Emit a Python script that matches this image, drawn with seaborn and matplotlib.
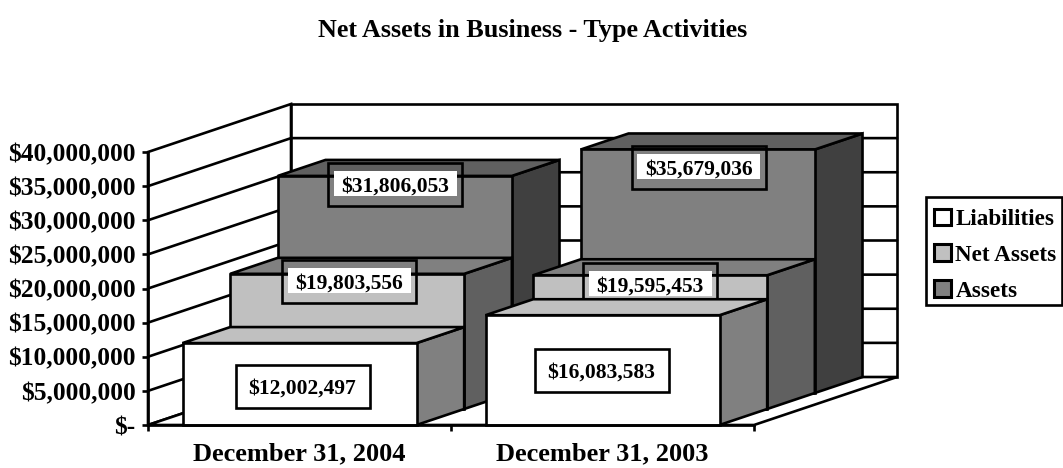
import matplotlib
matplotlib.use("Agg")
import matplotlib.pyplot as plt
import seaborn as sns
import pandas as pd
from matplotlib.patches import Polygon, Rectangle, Patch
from matplotlib.ticker import FuncFormatter, MultipleLocator

# ---- data ----
periods = ["December 31, 2004", "December 31, 2003"]
liabilities = [12002497, 16083583]
net_assets = [19803556, 19595453]
assets = [31806053, 35679036]
series_names = ["Liabilities", "Net Assets", "Assets"]
series_values = [liabilities, net_assets, assets]

# ---- style / layout ----
FIG_W, FIG_H = 1063, 468
AX_L, AX_R, AX_B, AX_T = 148, 754, 425, 152
YMAX = 40000000
PX_X = (AX_R - AX_L) / 2.0          # px per category
PX_Y = (AX_B - AX_T) / YMAX         # px per dollar
DZ_X = 47.67 / PX_X                 # depth slot, in category units
DZ_Y = 16.0 / PX_Y                  # depth slot, in dollars
BAR_W = 234 / PX_X
LW = 1.9
front = ["#ffffff", "#c0c0c0", "#808080"]
top = ["#c0c0c0", "#808080", "#606060"]
side = ["#808080", "#606060", "#404040"]
label_drop_px = [[43.5, 55.5], [7.5, 9.0], [8.5, 18.5]]
label_shift_px = [[3, -1], [2, 0], [0.5, 1]]
label_box_fill = ["#ffffff", "none", "none"]
BOX_W, BOX_H = 134 / PX_X, 43 / PX_Y
BG_W, BG_H = 123 / PX_X, 25 / PX_Y
SERIF = "Liberation Serif"

sns.set_theme(style="white")
plt.rcParams["font.family"] = SERIF
plt.rcParams["font.weight"] = "bold"

fig = plt.figure(figsize=(FIG_W / 100, FIG_H / 100), dpi=100)
ax = fig.add_axes([AX_L / FIG_W, 1 - AX_B / FIG_H,
                   (AX_R - AX_L) / FIG_W, (AX_B - AX_T) / FIG_H])
XL, XR = -0.5, 1.5


def proj(x, y, z):
    return x + z * DZ_X, y + z * DZ_Y


def poly(points, fc, zorder):
    ax.add_patch(Polygon([proj(*p) for p in points], closed=True, facecolor=fc,
                         edgecolor="black", linewidth=LW, joinstyle="miter",
                         clip_on=False, zorder=zorder))


# walls and floor
D = 3
poly([(XL, 0, 0), (XL, YMAX, 0), (XL, YMAX, D), (XL, 0, D)], "white", 1)
poly([(XL, 0, D), (XL, YMAX, D), (XR, YMAX, D), (XR, 0, D)], "white", 1)
poly([(XL, 0, 0), (XR, 0, 0), (XR, 0, D), (XL, 0, D)], "white", 1)
for level in range(5000000, YMAX, 5000000):
    pts = [proj(XL, level, 0), proj(XL, level, D), proj(XR, level, D)]
    ax.plot(*zip(*pts), color="black", lw=LW, clip_on=False, zorder=2,
            solid_joinstyle="miter")

# series, painted back to front
for s in [2, 1, 0]:
    z = 10 + (2 - s) * 10
    vals = series_values[s]
    for c, v in enumerate(vals):
        x0, x1 = c - BAR_W / 2, c + BAR_W / 2
        poly([(x1, 0, s), (x1, v, s), (x1, v, s + 1), (x1, 0, s + 1)], side[s], z)
        poly([(x0, v, s), (x1, v, s), (x1, v, s + 1), (x0, v, s + 1)], top[s], z)
    n_before = len(ax.patches)
    frame = pd.DataFrame({"period": periods, "value": vals})
    sns.barplot(data=frame, x="period", y="value", color=front[s], saturation=1,
                width=BAR_W, errorbar=None, edgecolor="black", linewidth=LW, ax=ax)
    for bar in ax.patches[n_before:]:
        bar.set_x(bar.get_x() + s * DZ_X)
        bar.set_y(s * DZ_Y)
        bar.set_zorder(z + 1)
        bar.set_clip_on(False)
        bar.set_joinstyle("miter")
    for c, v in enumerate(vals):
        cx, base = proj(c, v, s)
        cx += label_shift_px[s][c] / PX_X
        cy = base - label_drop_px[s][c] / PX_Y
        ax.add_patch(Rectangle((cx - BOX_W / 2, cy - BOX_H / 2), BOX_W, BOX_H,
                               facecolor=label_box_fill[s], edgecolor="black",
                               linewidth=LW, clip_on=False, zorder=z + 2))
        ax.add_patch(Rectangle((cx - BG_W / 2, cy - BG_H / 2 + 1 / PX_Y), BG_W, BG_H,
                               facecolor="white", edgecolor="none",
                               clip_on=False, zorder=z + 3))
        ax.text(cx, cy - 2 / PX_Y, f"${v:,.0f}", ha="center", va="center", fontsize=15.5,
                fontweight="bold", color="black", zorder=z + 4)

# axes
ax.set_xlim(XL, XR)
ax.set_ylim(0, YMAX)
ax.set_xlabel("")
ax.set_ylabel("")
ax.patch.set_visible(False)
ax.yaxis.set_major_locator(MultipleLocator(5000000))
ax.yaxis.set_major_formatter(FuncFormatter(lambda v, _: "$-" if v == 0 else f"${v:,.0f}"))
ax.set_xticks([XL, 0.5, XR])
ax.set_xticklabels([])
ax.set_xticks([0, 1], labels=periods, minor=True)
ax.tick_params(axis="x", which="major", bottom=True, length=4, width=LW, color="black")
ax.tick_params(axis="x", which="minor", bottom=False, pad=8.2, labelsize=19)
ax.tick_params(axis="y", left=True, length=4, width=LW, color="black", pad=5, labelsize=18.4)
for lab in ax.get_xticklabels(minor=True) + ax.get_yticklabels():
    lab.set_fontweight("bold")
    lab.set_color("black")
sns.despine(ax=ax, top=True, right=True)
for name in ("left", "bottom"):
    ax.spines[name].set_color("black")
    ax.spines[name].set_linewidth(LW)
    ax.spines[name].set_zorder(60)

# legend: entries from the library, frame drawn to the reference's size
fig.add_artist(Rectangle((926 / FIG_W, 1 - 305 / FIG_H), 135.5 / FIG_W, 108 / FIG_H,
                         transform=fig.transFigure, facecolor="white", edgecolor="black",
                         linewidth=LW))
handles = [Patch(facecolor=front[i], edgecolor="black", linewidth=LW + 0.3, label=series_names[i])
           for i in range(3)]
leg = fig.legend(handles=handles, loc="upper left",
                 bbox_to_anchor=(926 / FIG_W, 1 - 200.5 / FIG_H), borderaxespad=0,
                 frameon=False,
                 handlelength=0.72, handleheight=0.72, handletextpad=0.2,
                 labelspacing=0.62, borderpad=0.35,
                 prop={"family": SERIF, "weight": "bold", "size": 16.7})
for t in leg.get_texts():
    t.set_color("black")

fig.text(533 / FIG_W, 1 - 30.5 / FIG_H, "Net Assets in Business - Type Activities",
         ha="center", va="center", fontsize=18.8, fontweight="bold", color="black")

fig.savefig("out.png", dpi=100, facecolor="white")
